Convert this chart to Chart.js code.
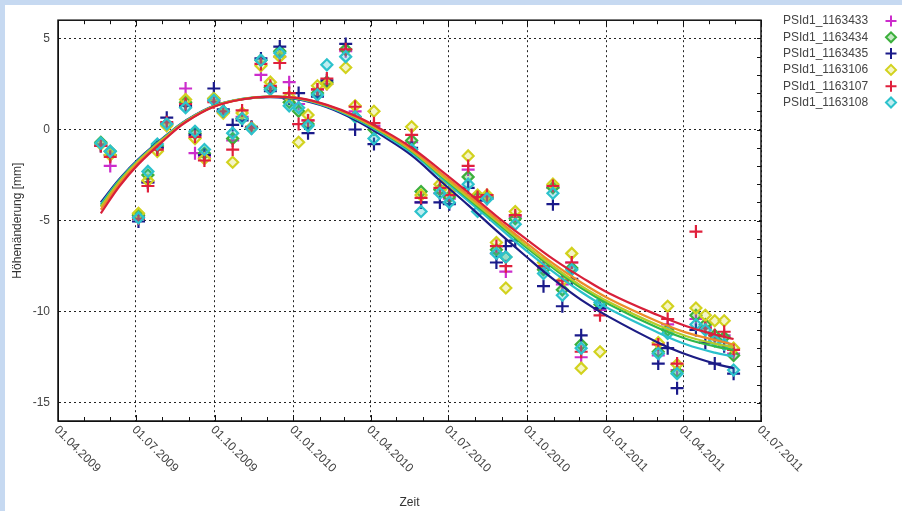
<!DOCTYPE html>
<html>
<head>
<meta charset="utf-8">
<script src="https://cdn.jsdelivr.net/npm/chart.js@4.4.1/dist/chart.umd.min.js"></script>
<style>
  html, body { margin: 0; padding: 0; }
  body { width: 902px; height: 511px; background: #c6d9f1; overflow: hidden; position: relative; }
  #wrap { position: absolute; left: 5px; top: 5px; width: 897px; height: 506px; background: #fff; }
</style>
</head>
<body>
<div id="wrap"><canvas id="chart" width="897" height="506"></canvas></div>
<script>
// Acquisition dates
const dates = [
  "2009-05-21", "2009-06-01", "2009-07-04", "2009-07-15", "2009-07-26", "2009-08-06",
  "2009-08-28", "2009-09-08", "2009-09-19", "2009-09-30", "2009-10-11", "2009-10-22",
  "2009-11-02", "2009-11-13", "2009-11-24", "2009-12-05", "2009-12-16", "2009-12-27",
  "2010-01-07", "2010-01-18", "2010-01-29", "2010-02-09", "2010-03-03", "2010-03-14",
  "2010-04-05", "2010-05-19", "2010-05-30", "2010-06-21", "2010-07-02", "2010-07-24",
  "2010-08-04", "2010-08-15", "2010-08-26", "2010-09-06", "2010-09-17", "2010-10-20",
  "2010-10-31", "2010-11-11", "2010-11-22", "2010-12-03", "2010-12-25", "2011-03-03",
  "2011-03-14", "2011-03-25", "2011-04-16", "2011-04-27", "2011-05-08", "2011-05-19",
  "2011-05-30",
];

// Height change per point [mm]
const ps1163433 = [
  -0.8, -2.0, -4.8, -2.9, -1.0, 0.35, 2.25, -1.3, -1.5, 1.6, 1.0, -0.6,
  0.7, 0.1, 3.0, 2.3, 4.0, 2.6, 1.4, 0.5, 2.2, 2.5, 4.3, 1.0,
  0.2, -0.7, -4.0, -3.5, -3.8, -2.2, -3.8, -3.7, -6.8, -7.8, -4.8, -7.6,
  -3.2, -8.5, -7.3, -12.5, -9.9, -12.4, -10.7, -13.2, -10.4, -10.8, -11.5, -11.3,
  -12.3,
];
const ps1163434 = [
  -0.7, -1.2, -4.7, -2.5, -0.9, 0.3, 1.5, -0.2, -1.3, 1.7, 1.0, -0.5,
  0.6, 0.1, 3.8, 2.3, 4.3, 1.5, 1.0, 0.3, 2.0, 2.6, 4.4, 0.7,
  0.0, -0.6, -3.4, -3.3, -3.7, -2.6, -3.7, -3.7, -6.6, -7.0, -4.9, -7.7,
  -3.2, -8.8, -7.6, -11.8, -9.6, -12.2, -11.0, -13.3, -10.2, -10.7, -11.3, -11.4,
  -12.4,
];
const ps1163435 = [
  -0.9, -1.4, -5.05, -2.9, -1.0, 0.65, 1.3, -0.3, -1.4, 2.25, 1.1, 0.25,
  0.5, 0.15, 3.9, 2.1, 4.55, 1.7, 2.0, -0.2, 1.8, 2.7, 4.7, 0.0,
  -0.8, -1.0, -4.0, -4.0, -4.1, -3.2, -3.9, -3.8, -7.3, -6.4, -6.1, -8.6,
  -4.1, -9.7, -8.2, -11.3, -9.8, -12.85, -12.0, -14.2, -11.0, -11.7, -12.85, -11.9,
  -13.4,
];
const ps1163106 = [
  -0.8, -1.4, -4.6, -2.8, -1.2, 0.2, 1.65, -0.5, -1.6, 1.7, 0.9, -1.8,
  0.9, 0.1, 3.5, 2.6, 4.0, 1.8, -0.7, 0.8, 2.4, 2.5, 3.4, 1.3,
  1.0, 0.15, -3.6, -3.0, -3.4, -1.45, -3.6, -3.6, -6.2, -8.7, -4.5, -7.3,
  -3.0, -8.3, -6.8, -13.1, -12.2, -11.7, -9.7, -12.9, -9.8, -10.2, -10.5, -10.5,
  -12.0,
];
const ps1163107 = [
  -0.9, -1.5, -4.9, -3.1, -1.1, 0.4, 1.4, -0.4, -1.7, 1.5, 1.0, -1.1,
  1.05, 0.1, 3.6, 2.4, 3.65, 2.0, 0.3, 0.5, 2.2, 2.8, 4.4, 1.25,
  0.35, -0.3, -3.75, -3.2, -3.6, -2.0, -3.7, -3.6, -6.4, -7.5, -4.7, -7.5,
  -3.1, -8.3, -7.3, -12.2, -10.2, -11.8, -10.4, -12.85, -5.6, -10.9, -11.3, -11.1,
  -12.1,
];
const ps1163108 = [
  -0.75, -1.2, -4.85, -2.3, -0.8, 0.3, 1.2, -0.1, -1.1, 1.6, 1.0, -0.2,
  0.6, 0.05, 3.8, 2.2, 4.2, 1.3, 1.2, 0.2, 1.9, 3.55, 4.0, 0.7,
  -0.5, -1.1, -4.5, -3.5, -4.0, -3.0, -4.5, -3.8, -6.8, -7.0, -5.2, -7.9,
  -3.5, -9.1, -7.7, -12.0, -9.5, -12.3, -11.2, -13.4, -10.7, -11.0, -11.6, -11.8,
  -13.2,
];

// Fitted trend curves
const fitDates = [
  "2009-05-21", "2009-06-12", "2009-07-04", "2009-08-06", "2009-08-28", "2009-09-30",
  "2009-11-02", "2009-12-05", "2010-01-07", "2010-02-09", "2010-03-14", "2010-04-16",
  "2010-05-19", "2010-06-21", "2010-07-24", "2010-08-26", "2010-09-28", "2010-10-31",
  "2010-12-03", "2011-01-05", "2011-03-03", "2011-04-05", "2011-05-08", "2011-05-30",
];
const fitRed = [-4.6, -3.1, -1.9, -0.45, 0.4, 1.25, 1.65, 1.8, 1.72, 1.35, 0.75, -0.05, -1.0, -2.2, -3.45, -4.75, -5.95, -7.1, -8.1, -9.0, -10.2, -10.8, -11.25, -11.5];
const fitOrange = [-4.4, -2.95, -1.8, -0.4, 0.42, 1.26, 1.66, 1.8, 1.72, 1.33, 0.7, -0.12, -1.1, -2.35, -3.6, -4.9, -6.15, -7.35, -8.4, -9.3, -10.55, -11.15, -11.55, -11.8];
const fitYellow = [-4.25, -2.85, -1.72, -0.36, 0.44, 1.27, 1.67, 1.8, 1.71, 1.31, 0.67, -0.17, -1.16, -2.45, -3.72, -5.0, -6.3, -7.5, -8.58, -9.48, -10.75, -11.35, -11.75, -11.95];
const fitGreen = [-4.2, -2.8, -1.7, -0.35, 0.45, 1.28, 1.67, 1.8, 1.7, 1.3, 0.65, -0.2, -1.2, -2.5, -3.8, -5.1, -6.4, -7.6, -8.7, -9.6, -10.9, -11.5, -11.9, -12.1];
const fitCyan = [-4.1, -2.75, -1.66, -0.32, 0.47, 1.29, 1.68, 1.8, 1.68, 1.27, 0.6, -0.27, -1.28, -2.6, -3.92, -5.25, -6.58, -7.8, -8.92, -9.85, -11.15, -11.8, -12.25, -12.45];
const fitNavy = [-4.0, -2.7, -1.62, -0.3, 0.48, 1.3, 1.67, 1.78, 1.65, 1.22, 0.52, -0.38, -1.42, -2.8, -4.15, -5.55, -6.9, -8.2, -9.35, -10.3, -11.7, -12.35, -12.85, -13.1];

// Axis ticks
const xTickDates = [
  "2009-04-01", "2009-07-01", "2009-10-01", "2010-01-01", "2010-04-01",
  "2010-07-01", "2010-10-01", "2011-01-01", "2011-04-01", "2011-07-01",
];
const xTickLabels = [
  "01.04.2009", "01.07.2009", "01.10.2009", "01.01.2010", "01.04.2010",
  "01.07.2010", "01.10.2010", "01.01.2011", "01.04.2011", "01.07.2011",
];
const yTicks = [-15, -10, -5, 0, 5];

// Series setup
const seriesNames = ["PSId1_1163433", "PSId1_1163434", "PSId1_1163435", "PSId1_1163106", "PSId1_1163107", "PSId1_1163108"];
const seriesValues = [ps1163433, ps1163434, ps1163435, ps1163106, ps1163107, ps1163108];
const seriesColors = ["#cc2ccc", "#3cb03c", "#1a1a8a", "#d2d21e", "#e0203c", "#2cc2cc"];
const seriesFills = ["none", "rgba(60,176,60,0.3)", "none", "rgba(210,210,30,0.25)", "none", "rgba(44,194,204,0.3)"];
const seriesStyles = ["cross", "rectRot", "cross", "rectRot", "cross", "rectRot"];
const seriesOrder = [6, 5, 4, 3, 2, 1];

const fitValues = [fitRed, fitOrange, fitYellow, fitGreen, fitCyan, fitNavy];
const fitColors = ["#d8203a", "#ee8a2a", "#b4cc2a", "#30b84a", "#2ac0cc", "#1c1c84"];

const xMin = Date.parse("2009-04-01");
const xMax = Date.parse("2011-07-01");
const FONT = '"Liberation Sans", Arial, sans-serif';

const pointSets = seriesValues.map((vals, i) => ({
  label: seriesNames[i],
  data: vals.map((v, k) => ({ x: Date.parse(dates[k]), y: v })),
  showLine: false,
  pointStyle: seriesStyles[i],
  pointRadius: seriesStyles[i] === "cross" ? 6.5 : 5.5,
  pointBorderWidth: 2.2,
  pointBorderColor: seriesColors[i],
  pointBackgroundColor: seriesFills[i] === "none" ? "rgba(0,0,0,0)" : seriesFills[i],
  borderColor: seriesColors[i],
  order: seriesOrder[i] + 6,
}));

const fitSets = fitValues.map((vals, i) => ({
  label: "fit" + i,
  data: vals.map((v, k) => ({ x: Date.parse(fitDates[k]), y: v })),
  showLine: true,
  pointRadius: 0,
  borderColor: fitColors[i],
  borderWidth: 2.2,
  tension: 0.4,
  order: i,
}));

// Frame, minor ticks, rotated date labels, titles and legend
const decor = {
  id: "decor",
  afterDraw(chart) {
    const { ctx, chartArea: a } = chart;
    const xs = chart.scales.x;
    const ys = chart.scales.y;
    ctx.save();

    ctx.strokeStyle = "#111";
    ctx.lineWidth = 1.5;
    ctx.strokeRect(a.left, a.top, a.right - a.left, a.bottom - a.top);

    // monthly ticks on bottom and top
    ctx.lineWidth = 1;
    ctx.beginPath();
    for (let yr = 2009; yr <= 2011; yr++) {
      for (let m = 0; m < 12; m++) {
        const t = Date.UTC(yr, m, 1);
        if (t < xMin || t > xMax) continue;
        const px = Math.round(xs.getPixelForValue(t)) + 0.5;
        const len = m % 3 === 0 ? 6 : 4;
        ctx.moveTo(px, a.bottom);
        ctx.lineTo(px, a.bottom - len);
        ctx.moveTo(px, a.top);
        ctx.lineTo(px, a.top + len);
      }
    }
    // unit ticks on right side
    for (let v = -16; v <= 6; v++) {
      const py = Math.round(ys.getPixelForValue(v)) + 0.5;
      ctx.moveTo(a.right, py);
      ctx.lineTo(a.right - 4, py);
    }
    ctx.stroke();

    // rotated date labels
    ctx.fillStyle = "#444";
    ctx.font = "12px " + FONT;
    ctx.textAlign = "left";
    ctx.textBaseline = "middle";
    xTickDates.forEach((d, i) => {
      const px = xs.getPixelForValue(Date.parse(d));
      ctx.save();
      ctx.translate(px - 2, a.bottom + 7);
      ctx.rotate(Math.PI / 4);
      ctx.fillText(xTickLabels[i], 0, 0);
      ctx.restore();
    });

    // axis titles
    ctx.fillStyle = "#333";
    ctx.textAlign = "center";
    ctx.fillText("Zeit", (a.left + a.right) / 2, 498);
    ctx.save();
    ctx.translate(13, (a.top + a.bottom) / 2);
    ctx.rotate(-Math.PI / 2);
    ctx.fillText("Höhenänderung [mm]", 0, 0);
    ctx.restore();

    // legend
    ctx.textAlign = "left";
    seriesNames.forEach((name, i) => {
      const ly = 16 + i * 16.3;
      ctx.fillStyle = "#444";
      ctx.fillText(name, 778, ly);
      const mx = 886;
      ctx.strokeStyle = seriesColors[i];
      ctx.lineWidth = 2;
      ctx.beginPath();
      if (seriesStyles[i] === "cross") {
        ctx.moveTo(mx - 5.5, ly);
        ctx.lineTo(mx + 5.5, ly);
        ctx.moveTo(mx, ly - 5.5);
        ctx.lineTo(mx, ly + 5.5);
      } else {
        ctx.moveTo(mx - 5, ly);
        ctx.lineTo(mx, ly - 5);
        ctx.lineTo(mx + 5, ly);
        ctx.lineTo(mx, ly + 5);
        ctx.closePath();
        ctx.fillStyle = seriesFills[i];
        ctx.fill();
      }
      ctx.stroke();
    });

    ctx.restore();
  },
};

new Chart(document.getElementById("chart"), {
  type: "scatter",
  data: { datasets: [...fitSets, ...pointSets] },
  options: {
    responsive: false,
    animation: false,
    devicePixelRatio: 1,
    layout: { padding: { left: 0, top: 5, right: 141, bottom: 0 } },
    plugins: {
      legend: { display: false },
      tooltip: { enabled: false },
    },
    scales: {
      x: {
        type: "linear",
        min: xMin,
        max: xMax,
        afterBuildTicks: (scale) => {
          scale.ticks = xTickDates.map((d) => ({ value: Date.parse(d) }));
        },
        afterFit: (scale) => {
          scale.height = 90;
        },
        ticks: { display: false },
        grid: { color: "#222", lineWidth: 1, drawTicks: false },
        border: { display: true, color: "#111", dash: [2, 3] },
      },
      y: {
        min: -16,
        max: 6,
        afterBuildTicks: (scale) => {
          scale.ticks = yTicks.map((v) => ({ value: v }));
        },
        afterFit: (scale) => {
          scale.width = 53;
        },
        ticks: {
          color: "#444",
          font: { family: FONT, size: 12 },
          padding: 8,
        },
        grid: { color: "#222", lineWidth: 1, drawTicks: false },
        border: { display: true, color: "#111", dash: [2, 3] },
      },
    },
  },
  plugins: [decor],
});
</script>
</body>
</html>
